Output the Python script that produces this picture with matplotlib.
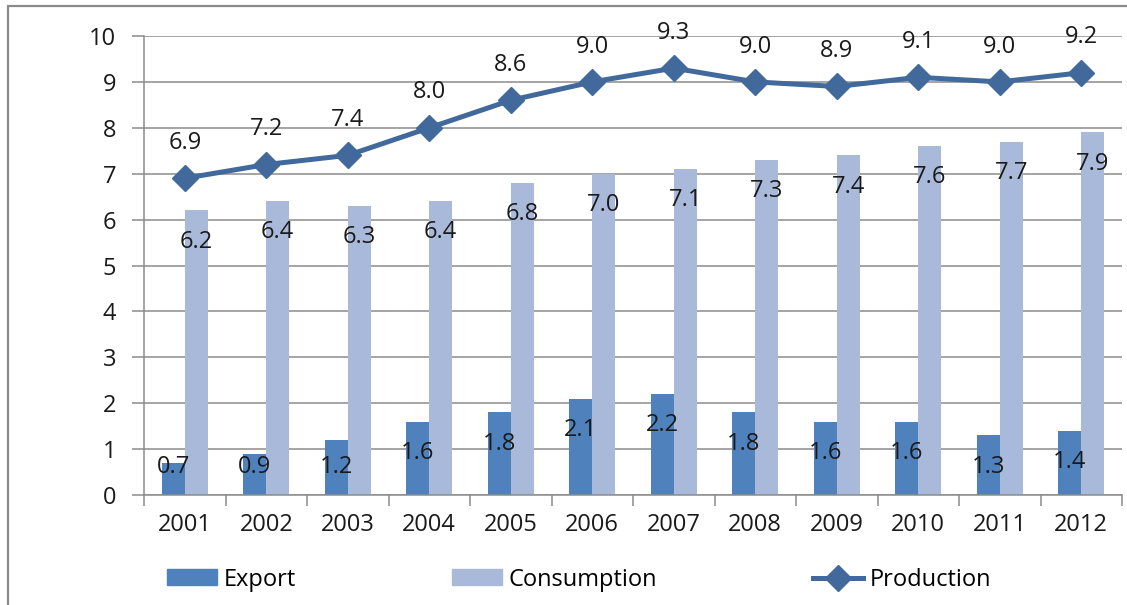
import numpy as np
import matplotlib
matplotlib.use("Agg")
import matplotlib.pyplot as plt
from matplotlib.lines import Line2D
from matplotlib.patches import Patch, Rectangle

plt.rcParams['font.family'] = ['Open Sans', 'DejaVu Sans']

# --- data ---
years = ["2001", "2002", "2003", "2004", "2005", "2006",
         "2007", "2008", "2009", "2010", "2011", "2012"]
export = [0.7, 0.9, 1.2, 1.6, 1.8, 2.1, 2.2, 1.8, 1.6, 1.6, 1.3, 1.4]
consumption = [6.2, 6.4, 6.3, 6.4, 6.8, 7.0, 7.1, 7.3, 7.4, 7.6, 7.7, 7.9]
production = [6.9, 7.2, 7.4, 8.0, 8.6, 9.0, 9.3, 9.0, 8.9, 9.1, 9.0, 9.2]

c_export = "#4F81BD"
c_cons = "#A9B9D9"
c_prod = "#41699C"
c_grid = "#8C8C8C"
fs = 17

fig = plt.figure(figsize=(11.27, 6.05), dpi=100)
ax = fig.add_axes([0.1278, 0.1818, 0.8678, 0.7587])

x = np.arange(len(years))
w = 0.28
ax.bar(x - w / 2, export, width=w, color=c_export, zorder=2)
ax.bar(x + w / 2, consumption, width=w, color=c_cons, zorder=2)
ax.plot(x, production, color=c_prod, lw=3.6, marker="D", markersize=13,
        zorder=3)

# data labels
for i in range(len(years)):
    ax.text(x[i] - w / 2, max(export[i] - 0.68, 0.6), f"{export[i]:.1f}",
            ha="center", va="center", fontsize=fs, color="#1a1a1a", zorder=4)
    ax.text(x[i] + w / 2, consumption[i] - 0.68, f"{consumption[i]:.1f}",
            ha="center", va="center", fontsize=fs, color="#1a1a1a", zorder=4)
    ax.text(x[i], production[i] + 0.77, f"{production[i]:.1f}",
            ha="center", va="center", fontsize=fs, color="#1a1a1a", zorder=4)

ax.set_xlim(-0.5, len(years) - 0.5)
ax.set_ylim(0, 10)
ax.set_yticks(range(0, 11))
ax.yaxis.grid(True, color=c_grid, lw=1.1, zorder=0)
ax.tick_params(axis="y", length=9, width=1.1, color=c_grid, pad=11,
               labelsize=fs, labelcolor="#1a1a1a")

ax.set_xticks(np.arange(-0.5, len(years), 1.0))
ax.set_xticklabels([])
ax.tick_params(axis="x", which="major", length=8, width=1.1, color=c_grid)
ax.set_xticks(x, minor=True)
ax.set_xticklabels(years, minor=True)
ax.tick_params(axis="x", which="minor", length=0, pad=13, labelsize=fs,
               labelcolor="#1a1a1a")

for s in ["top", "right"]:
    ax.spines[s].set_visible(False)
for s in ["left", "bottom"]:
    ax.spines[s].set_color(c_grid)
    ax.spines[s].set_linewidth(1.1)

handles = [Patch(color=c_export), Patch(color=c_cons),
           Line2D([], [], color=c_prod, lw=3.6, marker="D", markersize=13)]
fig.legend(handles, ["Export", "Consumption", "Production"], ncol=3,
           loc="center", bbox_to_anchor=(0.514, 0.042), frameon=False,
           fontsize=fs, handlelength=2.1, handleheight=0.65,
           columnspacing=6.6, handletextpad=0.3)

# outer chart frame (cropped at right and bottom)
fig.patches.append(Rectangle((8 / 1127, -0.05), 1.2, 1 - 6 / 605 + 0.05,
                             transform=fig.transFigure, fill=False,
                             edgecolor="#8a8a8a", lw=1.6))

fig.savefig("out.png", dpi=100)
